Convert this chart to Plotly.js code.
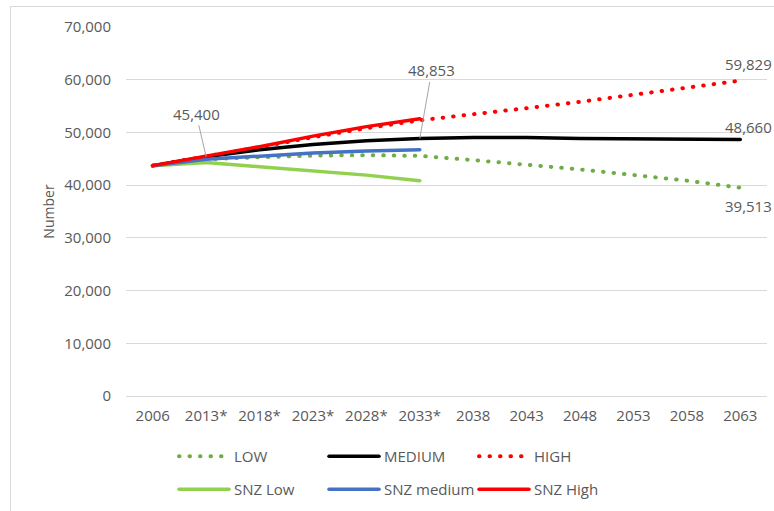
<!DOCTYPE html>
<html>
<head>
<meta charset="utf-8">
<script src="https://cdn.plot.ly/plotly-3.0.1.min.js"></script>
<style>
  html, body { margin: 0; padding: 0; background: #ffffff; }
  #frame {
    position: absolute; left: 10px; top: 6px; width: 800px; height: 540px;
    border: 1px solid #d9d9d9; box-sizing: border-box; pointer-events: none;
  }
  #chart { position: absolute; left: 0; top: 0; width: 774px; height: 511px; }
  /* Rounded caps turn the dotted projections into round dots */
  path.js-line { stroke-linecap: round; }
</style>
</head>
<body>
<div id="frame"></div>
<div id="chart"></div>
<script>
// Projection years (asterisk marks years shared with the SNZ series)
const years = ['2006', '2013*', '2018*', '2023*', '2028*', '2033*',
               '2038', '2043', '2048', '2053', '2058', '2063'];
const snzYears = years.slice(0, 6);

// Own projections
const low    = [43700, 44900, 45300, 45600, 45700, 45550, 44750, 43900, 42980, 41920, 40850, 39513];
const medium = [43700, 45400, 46700, 47700, 48400, 48853, 49050, 49050, 48850, 48750, 48600, 48660];
const high   = [43700, 45400, 47200, 49100, 50800, 52300, 53400, 54600, 55800, 57100, 58450, 59829];

// Statistics NZ projections
const snzLow    = [43700, 44300, 43500, 42700, 41900, 40850];
const snzMedium = [43700, 44900, 45500, 46100, 46500, 46700];
const snzHigh   = [43700, 45500, 47300, 49300, 51100, 52600];

const yTicks = [0, 10000, 20000, 30000, 40000, 50000, 60000, 70000];

const DOT = '0.5px,10px';
const textGrey = '#595959';

function series(name, x, y, color, dash, legend, rank) {
  return {
    type: 'scatter', mode: 'lines', name: name, x: x, y: y,
    line: { color: color, width: dash ? 4 : 3.5, dash: dash || 'solid' },
    legend: legend, legendrank: rank, hoverinfo: 'skip'
  };
}

const traces = [
  series('LOW', years, low, '#70AD47', DOT, 'legend', 1),
  series('HIGH', years, high, '#FF0000', DOT, 'legend', 3),
  series('MEDIUM', years, medium, '#000000', null, 'legend', 2),
  series('SNZ Low', snzYears, snzLow, '#92D050', null, 'legend2', 1),
  series('SNZ medium', snzYears, snzMedium, '#4472C4', null, 'legend2', 2),
  series('SNZ High', snzYears, snzHigh, '#FF0000', null, 'legend2', 3)
];

const last = years.length - 1;
const labelFont = { family: 'Open Sans, sans-serif', size: 15, color: textGrey };

function callout(i, arr, ax, ay) {
  return {
    x: i, y: arr[i], xref: 'x', yref: 'y', text: arr[i].toLocaleString('en-US'),
    showarrow: true, arrowhead: 0, arrowwidth: 1, arrowcolor: '#a6a6a6',
    ax: ax, ay: ay, standoff: 0, font: labelFont
  };
}
function endLabel(arr, yshift) {
  return {
    x: last, y: arr[last], xref: 'x', yref: 'y',
    text: arr[last].toLocaleString('en-US'), showarrow: false,
    xanchor: 'left', yanchor: 'middle', xshift: -17, yshift: yshift,
    font: labelFont
  };
}

const legendBase = {
  orientation: 'h', xref: 'container', yref: 'container',
  xanchor: 'left', yanchor: 'top', itemwidth: 50,
  entrywidth: 85, entrywidthmode: 'pixels',
  bgcolor: 'rgba(0,0,0,0)', font: labelFont, traceorder: 'normal'
};

const layout = {
  width: 774, height: 511,
  margin: { l: 126, r: 7, t: 27, b: 115 },
  paper_bgcolor: 'rgba(0,0,0,0)', plot_bgcolor: 'rgba(0,0,0,0)',
  font: labelFont,
  showlegend: true,
  xaxis: {
    type: 'category', categoryorder: 'array', categoryarray: years,
    range: [-0.5, years.length - 0.5], showgrid: false, ticks: '',
    showline: true, linecolor: '#d9d9d9', linewidth: 1,
    tickfont: labelFont, ticklabelstandoff: 6, fixedrange: true
  },
  yaxis: {
    range: [0, 70000], tickvals: yTicks,
    ticktext: yTicks.map(v => v.toLocaleString('en-US')),
    showgrid: true, gridcolor: '#d9d9d9', gridwidth: 1,
    zeroline: false, showline: false, ticks: '',
    tickfont: labelFont, ticklabelstandoff: 14,
    title: { text: 'Number', font: { family: 'Open Sans, sans-serif', size: 14, color: textGrey }, standoff: 6 },
    fixedrange: true
  },
  legend: Object.assign({}, legendBase, { x: 174 / 774, y: 1 - 440 / 511 }),
  legend2: Object.assign({}, legendBase, { x: 174 / 774, y: 1 - 473 / 511 }),
  annotations: [
    callout(1, medium, -10, -43),
    callout(5, medium, 12, -68),
    endLabel(high, 17),
    endLabel(medium, 12),
    endLabel(low, -18)
  ]
};

Plotly.newPlot('chart', traces, layout, { displayModeBar: false, staticPlot: true });
</script>
</body>
</html>
